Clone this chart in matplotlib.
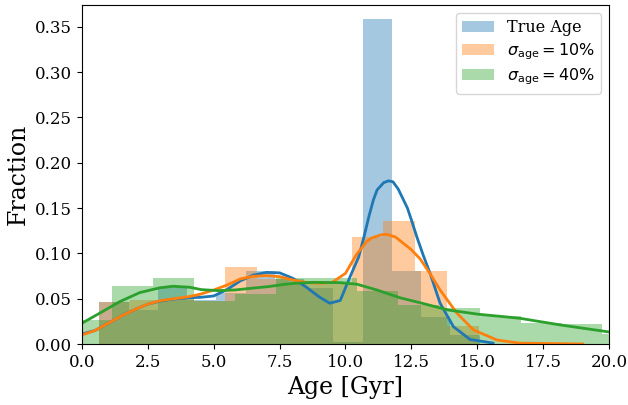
import numpy as np
import matplotlib
matplotlib.use('Agg')
import matplotlib.pyplot as plt

plt.rcParams['font.family'] = 'DejaVu Serif'
plt.rcParams['mathtext.fontset'] = 'dejavusans'

# histogram bins and normalised heights
true_edges = [0.66, 1.77, 2.88, 3.99, 5.10, 6.21, 7.32, 8.43, 9.54, 10.65, 11.76, 12.87, 13.98, 15.09]
true_hist = [0.046, 0.038, 0.063, 0.048, 0.056, 0.080, 0.072, 0.062, 0.002, 0.359, 0.080, 0.030, 0.010]

s10_edges = [0.64, 1.84, 3.04, 4.24, 5.44, 6.64, 7.84, 9.04, 10.24, 11.44, 12.64, 13.85, 15.05]
s10_hist = [0.046, 0.049, 0.050, 0.047, 0.085, 0.072, 0.068, 0.066, 0.118, 0.136, 0.080, 0.020]

s40_edges = [-0.40, 1.15, 2.70, 4.25, 5.80, 7.35, 8.90, 10.45, 12.00, 13.55, 15.10, 16.65, 18.20, 19.75, 21.30]
s40_hist = [0.0265, 0.064, 0.0725, 0.047, 0.055, 0.0725, 0.073, 0.0585, 0.043, 0.040, 0.031, 0.0235, 0.0225, 0.011]

# kde curves (sampled off the figure)
true_kde_x = [0, 0.5, 1, 1.5, 2, 2.5, 3, 3.5, 4, 4.5, 5, 5.5, 6, 6.5, 7, 7.5, 8, 8.5, 9, 9.4, 9.8,
              10.17, 10.5, 10.7, 10.9, 11.06, 11.2, 11.45, 11.63, 11.8, 12.0, 12.2, 12.35, 12.5,
              12.71, 12.95, 13.21, 13.59, 14.1, 14.73, 15.6]
true_kde_y = [0.011, 0.015, 0.023, 0.031, 0.038, 0.044, 0.0475, 0.0497, 0.051, 0.0515, 0.053, 0.060,
              0.0695, 0.076, 0.079, 0.0785, 0.0725, 0.063, 0.052, 0.045, 0.048, 0.074, 0.096, 0.118,
              0.142, 0.159, 0.170, 0.178, 0.180, 0.179, 0.171, 0.159, 0.150, 0.137, 0.118, 0.098,
              0.078, 0.045, 0.019, 0.005, 0.001]

s10_kde_x = [0, 0.5, 1, 1.5, 2, 2.5, 3, 3.5, 4, 4.5, 5, 5.5, 6, 6.5, 7, 7.5, 8, 8.5, 9, 9.5, 10.0,
             10.4, 10.8, 11.0, 11.35, 11.57, 11.9, 12.2, 12.5, 12.83, 13.2, 13.59, 14.23, 14.86,
             15.75, 16.6, 19.0]
s10_kde_y = [0.010, 0.015, 0.023, 0.031, 0.038, 0.044, 0.048, 0.050, 0.052, 0.055, 0.0596, 0.065,
             0.0717, 0.0747, 0.0754, 0.0743, 0.0706, 0.068, 0.067, 0.068, 0.078, 0.098, 0.113, 0.117,
             0.1205, 0.121, 0.118, 0.111, 0.104, 0.094, 0.078, 0.0596, 0.034, 0.0155, 0.0044, 0.001,
             0.0]

s40_kde_x = [0, 0.67, 1.43, 2.19, 2.95, 3.45, 4.09, 4.53, 5.16, 5.8, 6.43, 7.07, 7.7, 8.08, 8.78, 9.79,
             10.43, 11.19, 12.07, 12.9, 13.9, 15.05, 16.06, 16.63, 18.16, 19.93, 20.0]
s40_kde_y = [0.023, 0.034, 0.0467, 0.0567, 0.062, 0.0637, 0.0626, 0.060, 0.0589, 0.0596, 0.0615, 0.0633,
             0.0659, 0.067, 0.068, 0.0677, 0.066, 0.0596, 0.051, 0.045, 0.0375, 0.0328, 0.030, 0.0283,
             0.021, 0.0136, 0.0133]

fig = plt.figure(figsize=(6.28, 4.05), dpi=100)
ax = fig.add_axes([0.1306, 0.1506, 0.9697 - 0.1306, 0.9877 - 0.1506])

series = [
    (true_edges, true_hist, true_kde_x, true_kde_y, 'C0', 'True Age'),
    (s10_edges, s10_hist, s10_kde_x, s10_kde_y, 'C1', r'$\sigma_{\rm age} = 10\%$'),
    (s40_edges, s40_hist, s40_kde_x, s40_kde_y, 'C2', r'$\sigma_{\rm age} = 40\%$'),
]

for edges, heights, kx, ky, col, lab in series:
    edges = np.array(edges)
    ax.bar(edges[:-1], heights, width=np.diff(edges), align='edge',
           color=col, alpha=0.4, linewidth=0, label=lab)

for edges, heights, kx, ky, col, lab in series:
    ax.plot(kx, ky, color=col, lw=2)

ax.set_xlim(0, 20)
ax.set_ylim(0, 0.374)
ax.set_xticks([0, 2.5, 5, 7.5, 10, 12.5, 15, 17.5, 20])
ax.set_yticks([0, 0.05, 0.10, 0.15, 0.20, 0.25, 0.30, 0.35])
ax.tick_params(labelsize=12)
ax.set_xlabel('Age [Gyr]', fontsize=17)
ax.set_ylabel('Fraction', fontsize=17)
ax.legend(loc='upper right', fontsize=11.5, labelspacing=0.3)

fig.savefig('out.png', dpi=100)
